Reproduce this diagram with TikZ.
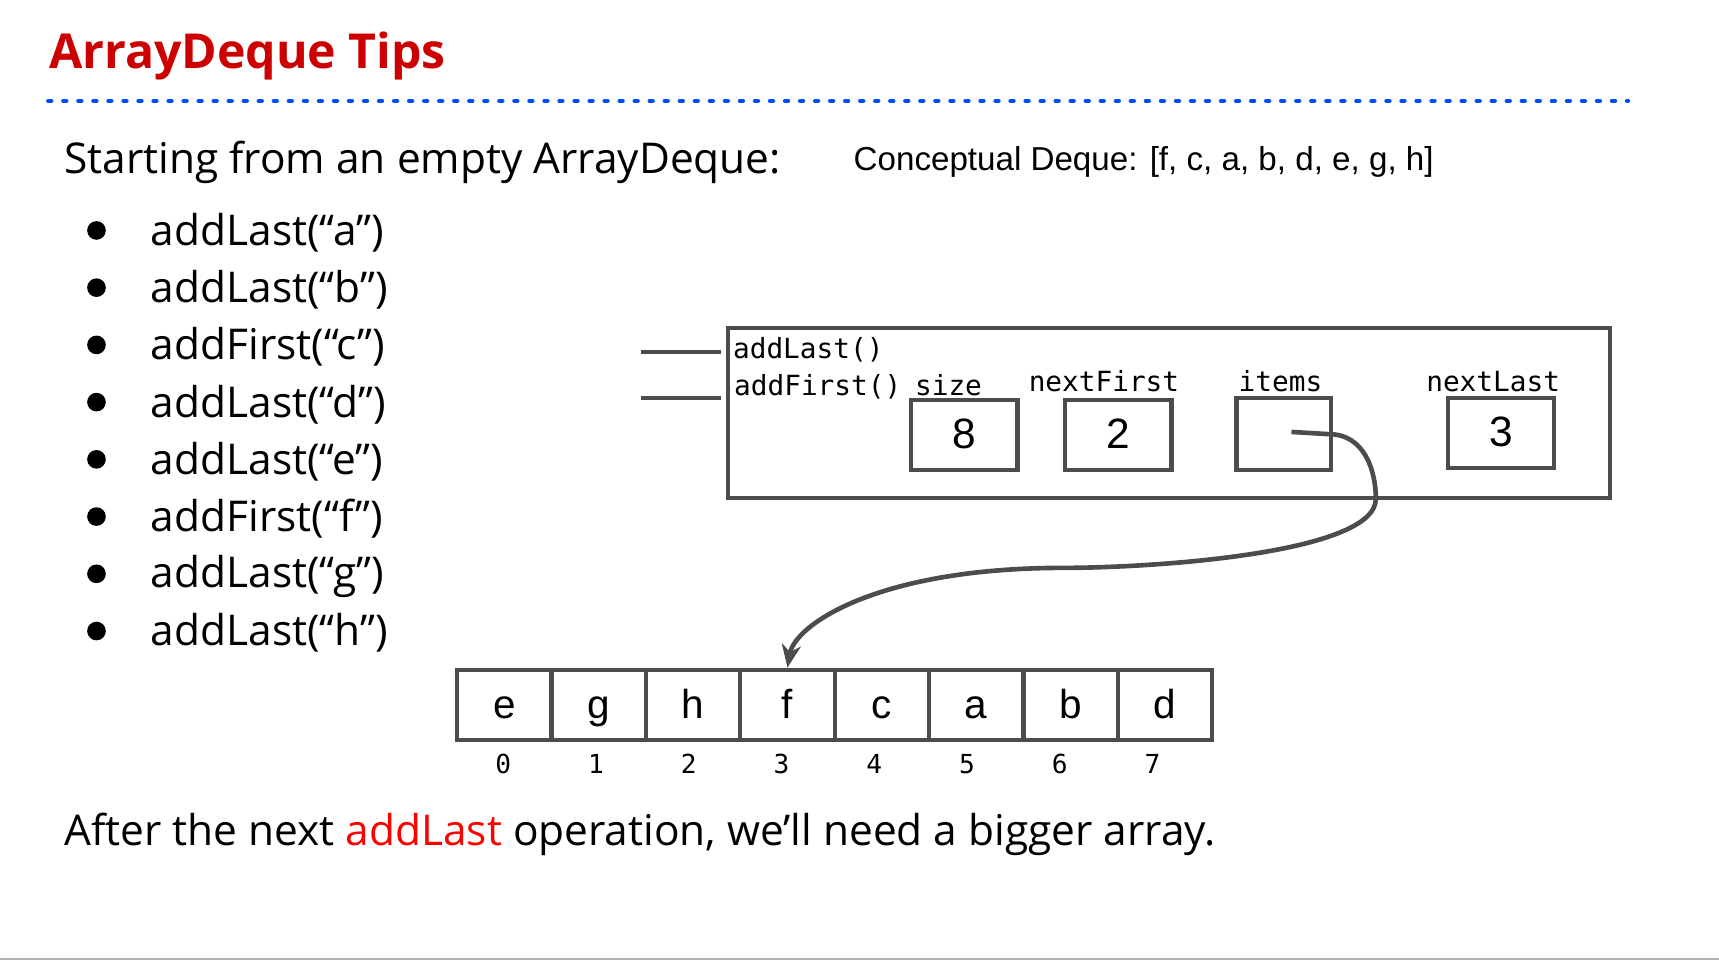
\documentclass[tikz,border=0pt]{standalone}
\usetikzlibrary{arrows.meta}
\usepackage{fontspec}
\setmainfont{Open Sans}
\newfontfamily\arialf{Liberation Sans}
\newfontfamily\monof{DejaVu Sans Mono}
\begin{document}
\begin{tikzpicture}[x=0.01cm,y=-0.01cm,
  boxst/.style={draw=black!70,line width=1.1pt},
  lbl/.style={font=\monof\fontsize{7.2}{8}\selectfont,inner sep=0pt},
  valst/.style={boxst,minimum width=0.97cm,minimum height=0.64cm,font=\arialf\fontsize{11}{12}\selectfont,inner sep=0pt,text height=0.72em,text depth=0.02em},
  cell/.style={boxst,minimum width=0.861cm,minimum height=0.64cm,font=\arialf\fontsize{10.5}{12}\selectfont,inner sep=0pt,text height=0.72em,text depth=0.02em},
  idx/.style={font=\monof\fontsize{6.8}{8}\selectfont,inner sep=0pt},
  item/.style={anchor=west,font=\fontsize{11}{12}\selectfont,inner sep=0pt}]
\useasboundingbox (0,0) rectangle (1568,876);
\draw[black!30,line width=0.6pt] (0,875) -- (1568,875);
\node[anchor=west,inner sep=0pt,text=red!80!black,font=\bfseries\fontsize{12.5}{14}\selectfont] (title) at (44,51) {ArrayDeque Tips};
\draw[blue!70!cyan,line width=1.1pt,dash pattern=on 0.8pt off 3.1pt,line cap=round] (44,92) -- (1485,92);
\node[item] (start) at (58,148) {Starting from an empty ArrayDeque:};
\node[anchor=west,inner sep=0pt,font=\arialf\fontsize{8.6}{10}\selectfont] (concept) at (778,148) {Conceptual Deque: [f, c, a, b, d, e, g, h]};
\foreach \t [count=\i] in {addLast(“a”),addLast(“b”),addFirst(“c”),addLast(“d”),addLast(“e”),addFirst(“f”),addLast(“g”),addLast(“h”)}{
  \node[circle,fill=black,inner sep=0pt,minimum size=0.17cm] (b\i) at (88,158+52.2*\i) {};
  \node[item] (t\i) at (137,160+52.2*\i) {\t};
}
\node[boxst,draw,minimum width=8.04cm,minimum height=1.55cm,anchor=north west] (obj) at (662,297) {};
\coordinate (l1) at (585,321); \coordinate (l2) at (585,363);
\draw[boxst] (l1) -- (658,321);
\draw[boxst] (l2) -- (658,363);
\node[lbl,anchor=west] (al) at (668,319) {addLast()};
\node[lbl,anchor=west] (af) at (669,353) {addFirst()};
\node[lbl,anchor=west] (szl) at (834,351) {size};
\node[valst] (sz) at (879.5,397) {8};
\node[lbl] (nfl) at (1007,348) {nextFirst};
\node[valst] (nf) at (1020,397) {2};
\node[lbl] (itl) at (1168,348) {items};
\node[valst,minimum width=0.86cm,minimum height=0.66cm] (it) at (1171,396) {};
\node[lbl] (nll) at (1362,348) {nextLast};
\node[valst] (nl) at (1369,395) {3};
\foreach \c [count=\i from 0] in {e,g,h,f,c,a,b,d}{
  \node[cell] (c\i) at (460+86.1*\i,643) {\c};
  \node[idx] (i\i) at (459+84.6*\i,697) {\i};
}
\coordinate (p0) at (1178,394);
\draw[black!70,line width=1.2pt,-{Stealth[length=6pt,width=5pt]}] (p0) -- (1212,396) .. controls (1245,396) and (1255,430) .. (1255,455) .. controls (1255,505) and (1050,518) .. (970,518) .. controls (800,518) and (725,570) .. (c3.north);
\node[item] (bottom) at (58,761) {After the next \textcolor{red}{addLast} operation, we’ll need a bigger array.};
\end{tikzpicture}
\end{document}
